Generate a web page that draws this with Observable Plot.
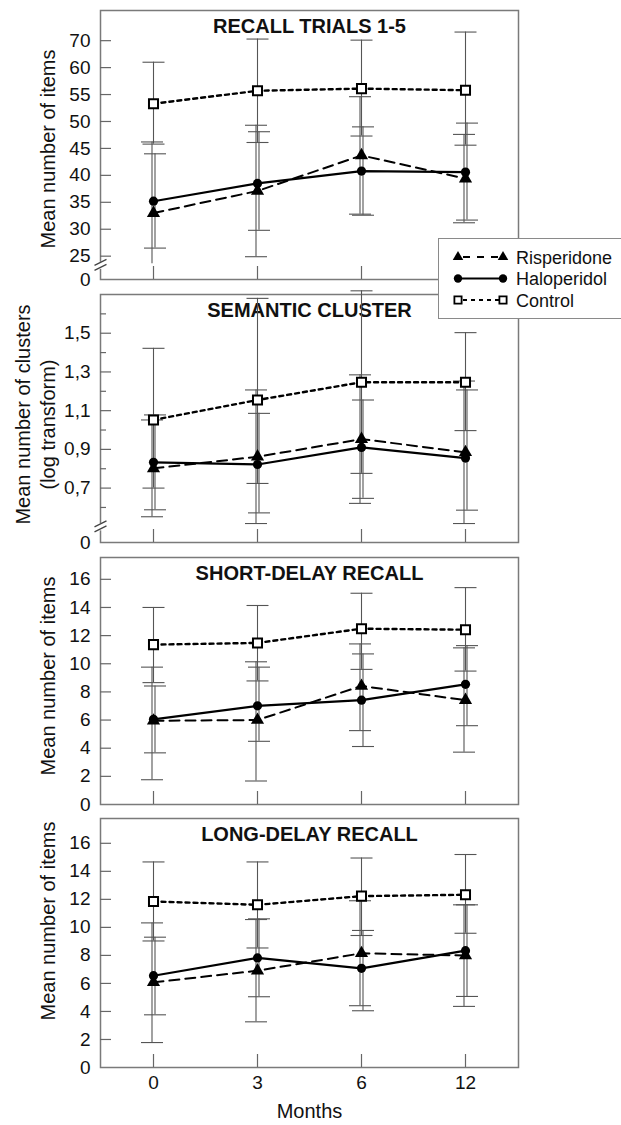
<!DOCTYPE html>
<html><head><meta charset="utf-8">
<script src="https://cdn.jsdelivr.net/npm/d3@7"></script>
<script src="https://cdn.jsdelivr.net/npm/@observablehq/plot@0.6"></script>
<style>
body{margin:0;background:#fff;}
#chart{position:relative;width:621px;height:1125px;overflow:hidden;font-family:"Liberation Sans",Arial,Helvetica,sans-serif;}
#chart .panel{position:absolute;left:0;}
#legend{position:absolute;left:438px;top:238px;width:185px;height:79px;border:1.5px solid #8a8a8a;background:#fff;}
</style></head><body><div id="chart"></div>
<script>
// ---------- data ----------
const months = ["0", "3", "6", "12"];
const groups = ["Risperidone", "Haloperidol", "Control"];

// Panel 1: Recall trials 1-5 (mean, lower and upper end of error bar)
const recallRis = [33.0, 37.1, 43.7, 39.4];
const recallRisLo = [19.8, 24.9, 32.8, 31.2];
const recallRisHi = [46.2, 49.3, 54.6, 47.6];
const recallHal = [35.2, 38.5, 40.8, 40.6];
const recallHalLo = [26.5, 29.8, 32.6, 31.7];
const recallHalHi = [44.0, 48.1, 49.0, 49.7];
const recallCon = [53.3, 55.7, 56.1, 55.8];
const recallConLo = [45.8, 46.1, 47.3, 45.6];
const recallConHi = [61.0, 65.3, 65.1, 66.6];
const recallTicks = [25, 30, 35, 40, 45, 50, 55, 60, 65];
const recallTickLabels = ["25", "30", "35", "40", "45", "50", "55", "60", "70"];

// Panel 2: Semantic cluster (log transform)
const semRis = [0.802, 0.862, 0.953, 0.885];
const semRisLo = [0.552, 0.517, 0.621, 0.517];
const semRisHi = [1.052, 1.207, 1.285, 1.253];
const semHal = [0.833, 0.822, 0.910, 0.855];
const semHalLo = [0.588, 0.572, 0.647, 0.586];
const semHalHi = [1.078, 1.086, 1.155, 1.207];
const semCon = [1.052, 1.155, 1.247, 1.247];
const semConLo = [0.700, 0.724, 0.776, 0.997];
const semConHi = [1.422, 1.68, 1.719, 1.503];
const semTicks = [0.7, 0.9, 1.1, 1.3, 1.5];
const semTickLabels = ["0,7", "0,9", "1,1", "1,3", "1,5"];
const semMinorTicks = [0.6, 0.8, 1.0, 1.2, 1.4, 1.6];

// Panel 3: Short-delay recall
const shortRis = [5.95, 6.0, 8.42, 7.41];
const shortRisLo = [1.76, 1.67, 5.25, 3.72];
const shortRisHi = [9.76, 10.14, 11.41, 11.13];
const shortHal = [6.05, 7.01, 7.41, 8.54];
const shortHalLo = [3.67, 4.49, 4.12, 5.6];
const shortHalHi = [8.42, 9.76, 10.7, 11.29];
const shortCon = [11.36, 11.48, 12.49, 12.42];
const shortConLo = [8.66, 8.78, 9.6, 9.48];
const shortConHi = [14.0, 14.14, 15.01, 15.41];

// Panel 4: Long-delay recall
const longRis = [6.08, 6.91, 8.15, 7.99];
const longRisLo = [1.78, 3.26, 4.41, 4.36];
const longRisHi = [10.32, 10.56, 11.9, 11.61];
const longHal = [6.55, 7.82, 7.08, 8.34];
const longHalLo = [3.76, 5.05, 4.05, 5.07];
const longHalHi = [9.3, 10.61, 9.78, 11.61];
const longCon = [11.85, 11.61, 12.23, 12.33];
const longConLo = [9.03, 8.53, 9.42, 9.58];
const longConHi = [14.67, 14.67, 14.95, 15.2];

const itemTicks = [2, 4, 6, 8, 10, 12, 14, 16];
const itemTickLabels = ["2", "4", "6", "8", "10", "12", "14", "16"];

// ---------- layout ----------
const W = 621, ML = 100, MR = 103, FW = W - ML - MR;
const FONT = '"Liberation Sans", Arial, Helvetica, sans-serif';

const panels = [
  {title: "RECALL TRIALS 1-5", ylab: ["Mean number of items"], ylabDx: [-52], ylabDy: [4],
   top: 0, mt: 10, fh: 269, mb: 5, domain: [20.67, 70.6], breakAt: 23.3, clip: 23.6,
   ticks: recallTicks, tickLabels: recallTickLabels, minor: [],
   mean: [recallRis, recallHal, recallCon], lo: [recallRisLo, recallHalLo, recallConLo], hi: [recallRisHi, recallHalHi, recallConHi]},
  {title: "SEMANTIC CLUSTER", ylab: ["Mean number of clusters", "(log transform)"], ylabDx: [-77, -52], ylabDy: [-4, 6],
   top: 289, mt: 5, fh: 248, mb: 5, domain: [0.419, 1.70], breakAt: 0.5, clip: null,
   ticks: semTicks, tickLabels: semTickLabels, minor: semMinorTicks,
   mean: [semRis, semHal, semCon], lo: [semRisLo, semHalLo, semConLo], hi: [semRisHi, semHalHi, semConHi]},
  {title: "SHORT-DELAY RECALL", ylab: ["Mean number of items"], ylabDx: [-52], ylabDy: [-5],
   top: 552, mt: 5, fh: 247, mb: 5, domain: [0, 17.55], breakAt: null, clip: null,
   ticks: itemTicks, tickLabels: itemTickLabels, minor: [],
   mean: [shortRis, shortHal, shortCon], lo: [shortRisLo, shortHalLo, shortConLo], hi: [shortRisHi, shortHalHi, shortConHi]},
  {title: "LONG-DELAY RECALL", ylab: ["Mean number of items"], ylabDx: [-52], ylabDy: [-22],
   top: 813, mt: 5, fh: 249, mb: 58, domain: [0, 17.77], breakAt: null, clip: null, xlabels: true,
   ticks: itemTicks, tickLabels: itemTickLabels, minor: [],
   mean: [longRis, longHal, longCon], lo: [longRisLo, longHalLo, longConLo], hi: [longRisHi, longHalHi, longConHi]}
];

const capSymbol = {draw(ctx, size) { const r = Math.sqrt(size / Math.PI); ctx.moveTo(-r, 0); ctx.lineTo(r, 0); }};
const breakSymbol = {draw(ctx, size) {
  ctx.moveTo(-6, 0); ctx.lineTo(6, -6);
  ctx.moveTo(-6, 5); ctx.lineTo(6, -1);
}};
const dash = {Risperidone: "10,6", Haloperidol: null, Control: "4,4"};
const lineW = {Risperidone: 2, Haloperidol: 2.2, Control: 2.4};
const barDx = {Risperidone: -1.5, Haloperidol: 1.5, Control: 0};

const chart = document.getElementById("chart");

panels.forEach(p => {
  const rows = [];
  groups.forEach((g, gi) => p.mean[gi].forEach((v, i) => rows.push({group: g, month: months[i], mean: v, lo: p.lo[gi][i], hi: p.hi[gi][i]})));
  const caps = rows.flatMap(d => [{...d, v: d.lo}, {...d, v: d.hi}]).filter(d => p.clip == null || d.v > p.clip);
  const labelOf = new Map(p.ticks.map((t, i) => [t, p.tickLabels[i]]));
  const yLabels = [p.domain[0], ...p.ticks];
  const marks = [
    Plot.frame({stroke: "#7a7a7a", strokeWidth: 1.5}),
    Plot.tickY(p.ticks, {y: d => d, insetRight: FW - 11, stroke: "#666", strokeWidth: 1.2}),
    Plot.tickY(p.minor, {y: d => d, insetRight: FW - 6, stroke: "#666", strokeWidth: 1.2}),
    Plot.tickX(months, {x: d => d, insetTop: p.fh - 13, stroke: "#666", strokeWidth: 1.2}),
    Plot.text(yLabels, {y: d => d, frameAnchor: "left", dx: -10, textAnchor: "end", text: d => labelOf.get(d) ?? "0", fontSize: 19, fill: "#111"}),
    Plot.text([p.title], {frameAnchor: "top", lineAnchor: "top", dy: 8, fontWeight: "bold", fontSize: 20, fill: "#111"}),
    ...p.ylab.map((t, i) => Plot.text([t], {frameAnchor: "left", textAnchor: "middle", lineAnchor: "middle", dx: p.ylabDx[i], dy: p.ylabDy[i], rotate: -90, fontSize: 20, fill: "#111"}))
  ];
  if (p.breakAt != null) {
    marks.push(Plot.dot([p.breakAt], {y: d => d, frameAnchor: "left", symbol: "square", r: 4, fill: "#fff"}));
    marks.push(Plot.dot([p.breakAt], {y: d => d, frameAnchor: "left", symbol: breakSymbol, r: 6, stroke: "#444", strokeWidth: 1.3, fill: "none"}));
  }
  groups.forEach(g => {
    marks.push(Plot.ruleX(rows.filter(d => d.group === g), {x: "month", y1: d => p.clip == null ? d.lo : Math.max(d.lo, p.clip), y2: "hi", stroke: "#555", strokeWidth: 1.1, dx: barDx[g]}));
    marks.push(Plot.dot(caps.filter(d => d.group === g), {x: "month", y: "v", symbol: capSymbol, r: 11, stroke: "#555", strokeWidth: 1.1, fill: "none", dx: barDx[g]}));
  });
  groups.forEach(g => {
    marks.push(Plot.line(rows.filter(d => d.group === g), {x: "month", y: "mean", stroke: "#000", strokeWidth: lineW[g], strokeDasharray: dash[g]}));
  });
  marks.push(Plot.dot(rows.filter(d => d.group === "Control"), {x: "month", y: "mean", symbol: "square", r: 5.1, fill: "#fff", stroke: "#000", strokeWidth: 2}));
  marks.push(Plot.dot(rows.filter(d => d.group === "Haloperidol"), {x: "month", y: "mean", symbol: "circle", r: 4.6, fill: "#000"}));
  marks.push(Plot.dot(rows.filter(d => d.group === "Risperidone"), {x: "month", y: "mean", symbol: "triangle", r: 4.9, fill: "#000"}));
  if (p.xlabels) {
    marks.push(Plot.text(months, {x: d => d, frameAnchor: "bottom", dy: 21, fontSize: 19, fill: "#111"}));
    marks.push(Plot.text(["Months"], {frameAnchor: "bottom", dy: 50, fontSize: 20, fill: "#111"}));
  }
  const svg = Plot.plot({
    width: W, height: p.mt + p.fh + p.mb,
    marginLeft: ML, marginRight: MR, marginTop: p.mt, marginBottom: p.mb,
    x: {type: "point", domain: months, padding: 0.5, axis: null},
    y: {domain: p.domain, axis: null},
    style: {fontFamily: FONT, fontSize: "19px", color: "#111", background: "transparent", overflow: "visible"},
    marks
  });
  svg.classList.add("panel");
  svg.style.top = p.top + "px";
  chart.appendChild(svg);
});

// ---------- legend ----------
const legend = document.createElement("div");
legend.id = "legend";
chart.appendChild(legend);
const ls = d3.select(legend).append("svg").attr("width", 185).attr("height", 79).style("display", "block");
const legRows = [
  {name: "Risperidone", y: 18, dash: "7,7", sym: d3.symbolTriangle, size: 48, fill: "#000", stroke: "none"},
  {name: "Haloperidol", y: 39.5, dash: null, sym: d3.symbolCircle, size: 55, fill: "#000", stroke: "none"},
  {name: "Control", y: 61, dash: "4,4", sym: d3.symbolSquare, size: 52, fill: "#fff", stroke: "#000"}
];
legRows.forEach(r => {
  const line = ls.append("line").attr("x1", 19).attr("x2", 64).attr("y1", r.y).attr("y2", r.y)
    .attr("stroke", "#000").attr("stroke-width", 2);
  if (r.dash) line.attr("stroke-dasharray", r.dash).attr("stroke-dashoffset", -5);
  [19, 64].forEach(x => ls.append("path").attr("d", d3.symbol(r.sym, r.size)())
    .attr("transform", `translate(${x},${r.y})`).attr("fill", r.fill).attr("stroke", r.stroke).attr("stroke-width", 1.8));
  ls.append("text").attr("x", 77).attr("y", r.y + 6.5).attr("font-size", 18).attr("font-family", FONT).attr("fill", "#111").text(r.name);
});
</script>
</body></html>
